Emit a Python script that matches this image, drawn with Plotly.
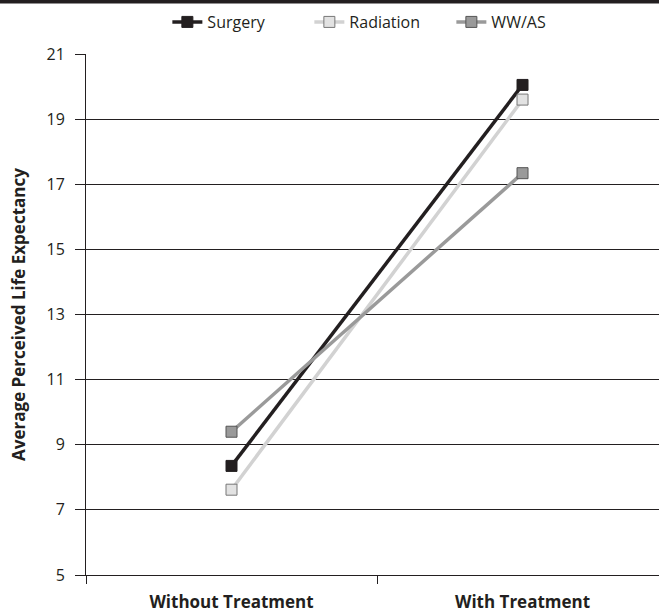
import plotly.graph_objects as go

categories = ["Without Treatment", "With Treatment"]
surgery = [8.35, 20.05]
radiation = [7.62, 19.6]
wwas = [9.4, 17.34]
y_ticks = [5, 7, 9, 11, 13, 15, 17, 19, 21]

FONT = "Open Sans"
fig = go.Figure()

def add(name, vals, line_c, fill_c, border_c):
    fig.add_trace(go.Scatter(
        x=categories, y=vals, name=name, mode="lines+markers",
        line=dict(color=line_c, width=3.5),
        marker=dict(symbol="square", size=11, color=fill_c,
                    line=dict(color=border_c, width=1)),
    ))

add("Surgery", surgery, "#231f20", "#231f20", "#231f20")
add("Radiation", radiation, "#d2d2d2", "#e2e2e2", "#777777")
add("WW/AS", wwas, "#9a9a9a", "#9a9a9a", "#555555")

fig.update_layout(
    width=659, height=615,
    margin=dict(l=86, r=0, t=54, b=40, autoexpand=False),
    paper_bgcolor="white", plot_bgcolor="white",
    font=dict(family=FONT, size=14, color="#231f20"),
    showlegend=True,
    legend=dict(orientation="h", x=0.142, xanchor="left", y=1.0614, yanchor="middle",
                yref="paper", font=dict(size=16), entrywidth=97,
                tracegroupgap=0),
    shapes=[dict(type="line", xref="paper", yref="paper", x0=-0.2, x1=1.05,
                 y0=1.1005, y1=1.1005, line=dict(color="#231f20", width=3.5),
                 layer="above")],
)

fig.update_xaxes(
    type="category", range=[-0.5, 1.469], automargin=False,
    showline=True, linecolor="#231f20", linewidth=1,
    tickson="boundaries", ticks="outside", ticklen=8, tickcolor="#231f20",
    ticklabelstandoff=12,
    showgrid=False, tickfont=dict(size=17, family=FONT, weight="bold"),
)
fig.update_yaxes(
    range=[5, 21], tickvals=y_ticks, ticktext=[str(v) for v in y_ticks],
    automargin=False,
    showgrid=True, gridcolor="#231f20", gridwidth=1,
    showline=True, linecolor="#231f20", linewidth=1,
    ticks="outside", ticklen=10, tickcolor="#231f20",
    ticklabelstandoff=7,
    zeroline=False, tickfont=dict(size=16),
    title=dict(text="Average Perceived Life Expectancy",
               font=dict(size=17, family=FONT, weight="bold"), standoff=16),
)

fig.write_html("out.html", config={"displayModeBar": False},
               post_script="document.body.style.margin='0';")
